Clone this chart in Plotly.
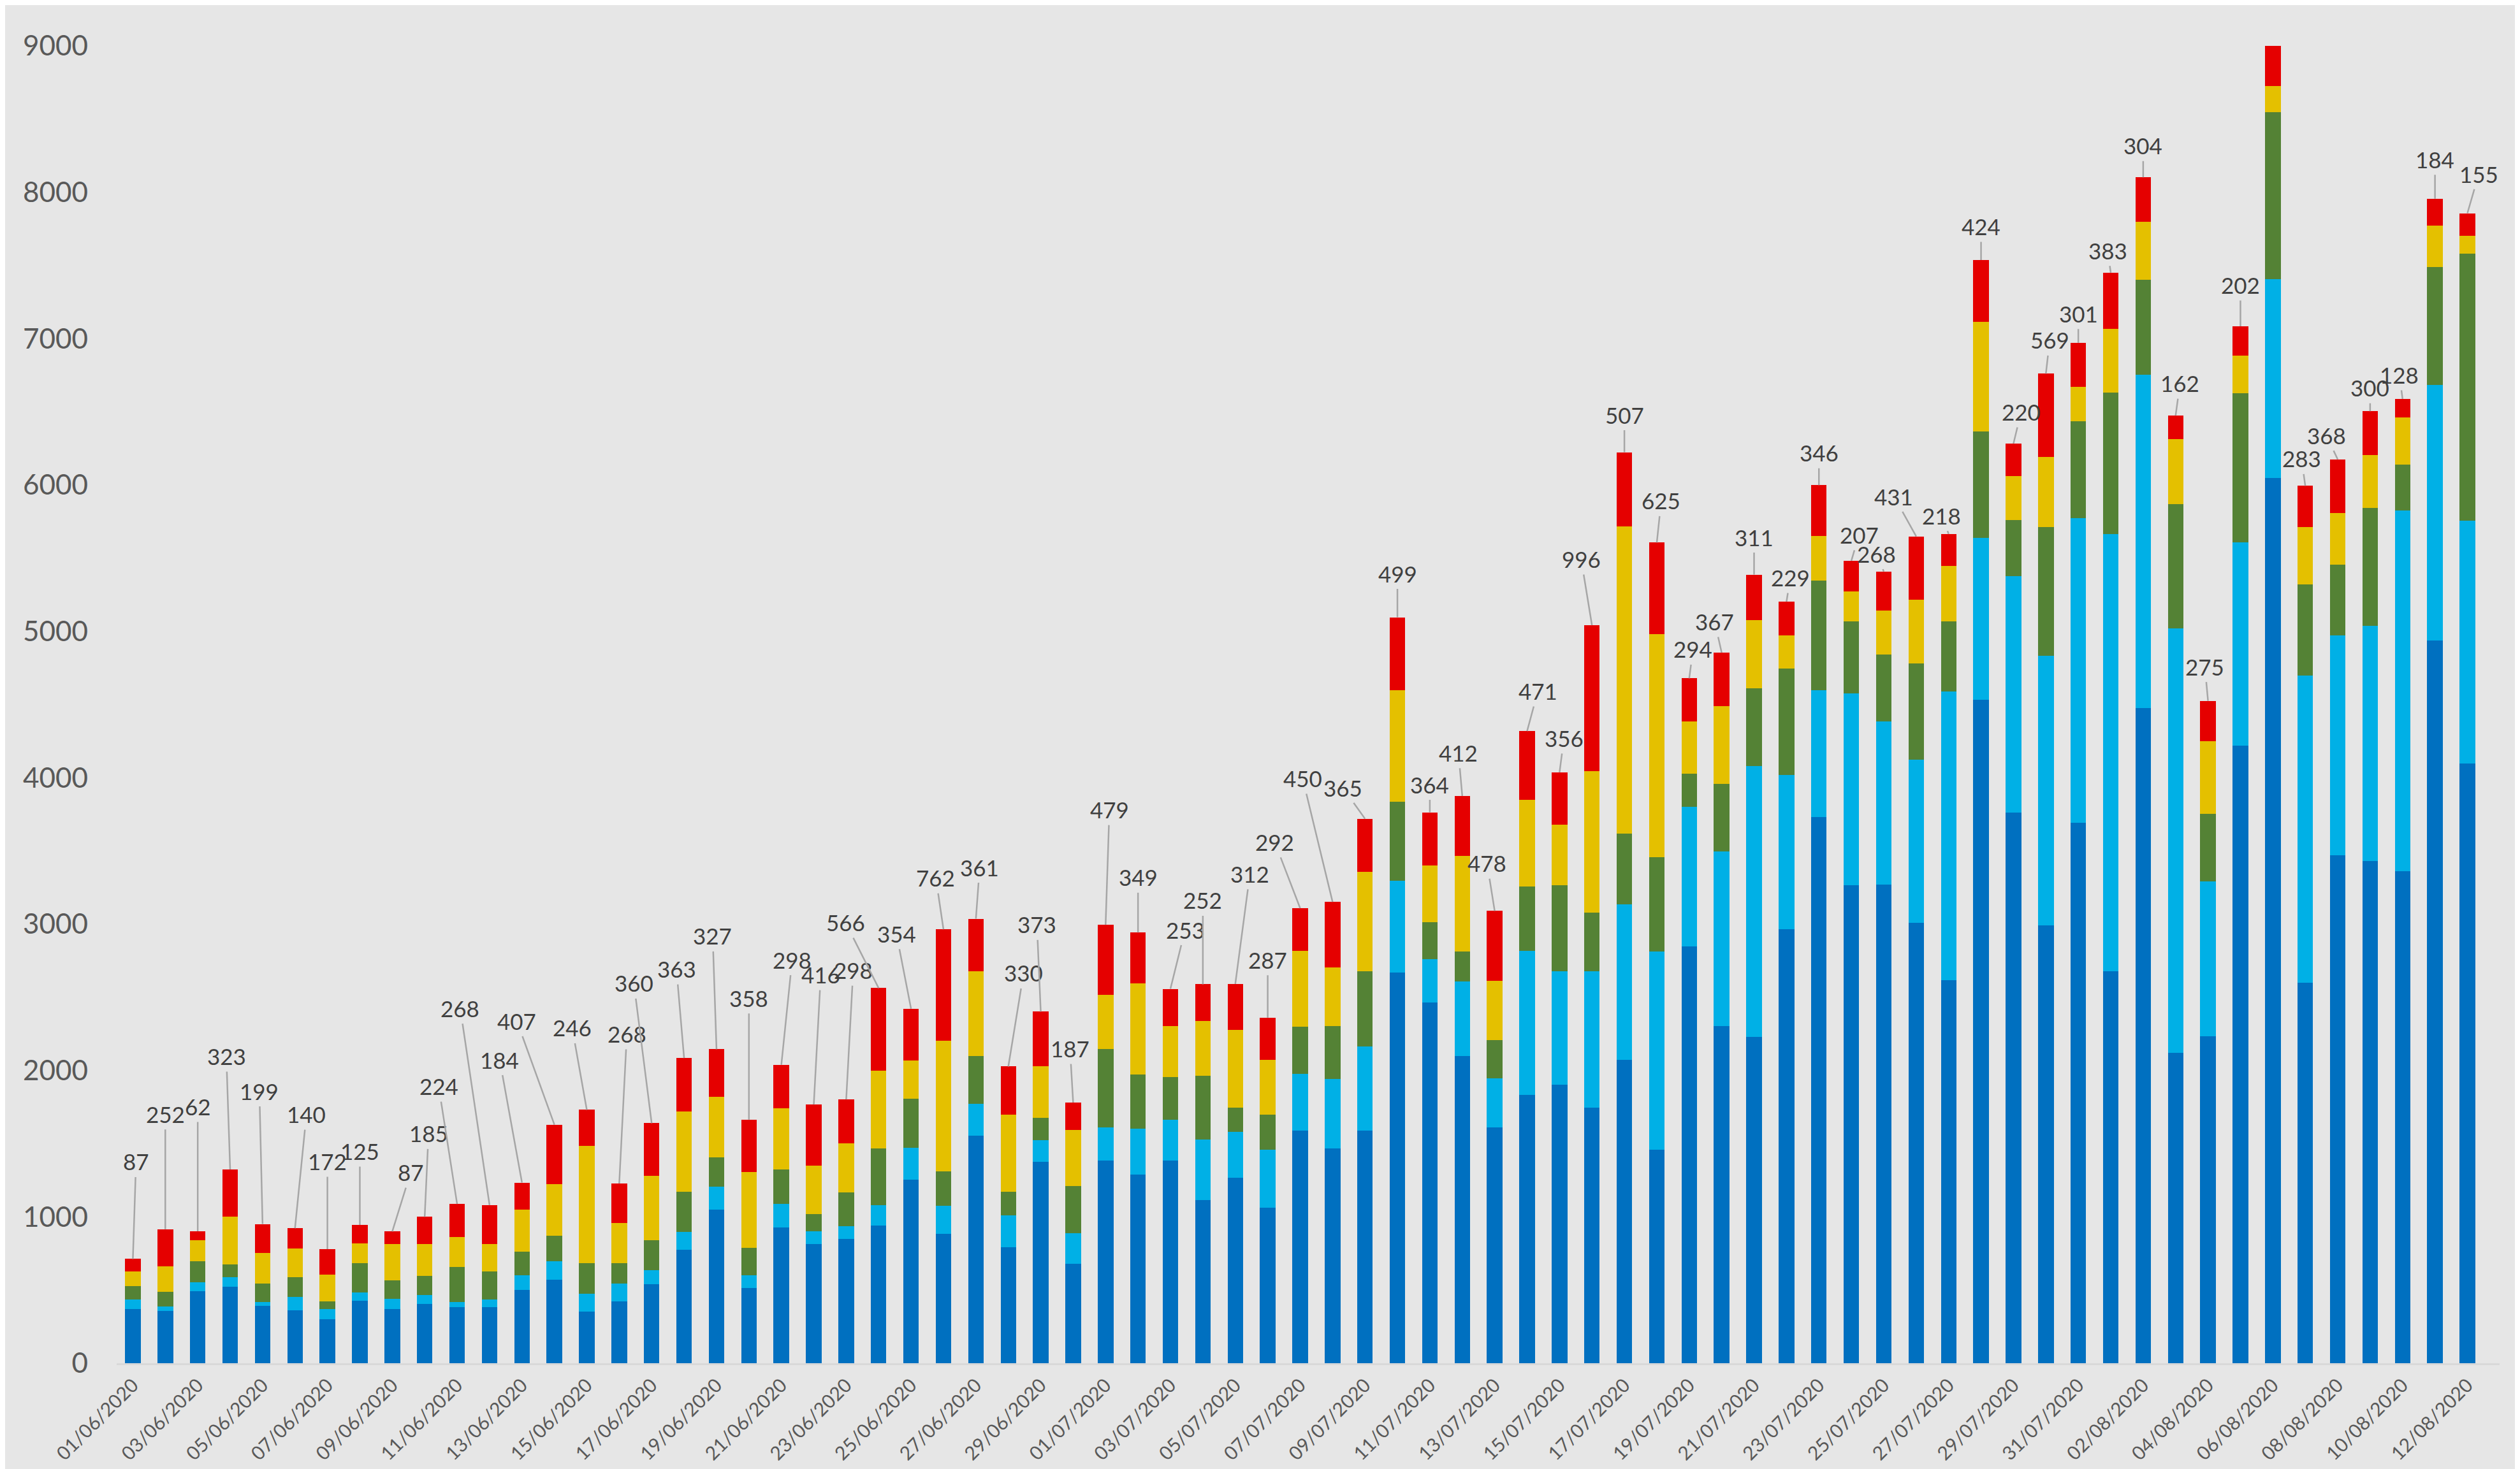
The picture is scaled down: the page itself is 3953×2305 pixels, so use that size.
import pandas as pd
import plotly.graph_objects as go

# ---- data -------------------------------------------------------------
dates = pd.date_range("2020-06-01", "2020-08-12").strftime("%d/%m/%Y").tolist()

dark_blue = [369, 359, 493, 521, 390, 361, 302, 428, 368, 407,
             384, 384, 499, 570, 352, 423, 538, 775, 1050, 512,
             928, 813, 851, 941, 1255, 883, 1556, 794, 1376, 679,
             1383, 1287, 1383, 1114, 1268, 1063, 1588, 1466, 1588, 2670,
             2465, 2100, 1613, 1831, 1901, 1748, 2074, 1460, 2849, 2305,
             2228, 2964, 3732, 3265, 3271, 3009, 2618, 4533, 3764, 2990,
             3694, 2676, 4475, 2119, 2234, 4219, 6050, 2599, 3470, 3431,
             3361, 4936, 4097]

light_blue = [67, 29, 60, 69, 30, 92, 67, 57, 73, 57,
              32, 51, 103, 128, 122, 121, 96, 121, 154, 90,
              160, 90, 84, 141, 217, 193, 217, 218, 148, 211,
              230, 314, 282, 416, 313, 397, 390, 474, 576, 627,
              294, 506, 333, 986, 775, 928, 1063, 1351, 954, 1191,
              1850, 1056, 865, 1312, 1114, 1114, 1972, 1107, 1614, 1844,
              2081, 2990, 2279, 2900, 1057, 1389, 1357, 2100, 1504, 1607,
              2465, 1748, 1658]

green = [91, 100, 143, 87, 125, 137, 54, 200, 124, 132,
         243, 192, 160, 173, 211, 141, 205, 276, 204, 185,
         237, 115, 230, 384, 333, 236, 327, 160, 153, 320,
         532, 371, 288, 435, 167, 237, 320, 365, 512, 538,
         256, 205, 263, 442, 589, 403, 480, 646, 224, 460,
         531, 724, 749, 493, 455, 659, 480, 724, 384, 877,
         659, 967, 647, 852, 461, 1018, 1140, 621, 481, 807,
         314, 806, 1825]

yellow = [98, 176, 143, 324, 207, 192, 184, 135, 248, 219,
          205, 186, 288, 352, 800, 275, 441, 550, 410, 519,
          416, 333, 339, 531, 263, 890, 576, 525, 352, 384,
          371, 621, 352, 372, 531, 377, 519, 397, 679, 762,
          385, 653, 403, 589, 416, 967, 2100, 1524, 358, 532,
          468, 230, 307, 205, 301, 436, 378, 749, 301, 480,
          237, 435, 397, 441, 499, 256, 179, 391, 352, 359,
          320, 282, 122]

red = [87, 252, 62, 323, 199, 140, 172, 125, 87, 185,
       224, 268, 184, 407, 246, 268, 360, 363, 327, 358,
       298, 416, 298, 566, 354, 762, 361, 330, 373, 187,
       479, 349, 253, 252, 312, 287, 292, 450, 365, 499,
       364, 412, 478, 471, 356, 996, 507, 625, 294, 367,
       311, 229, 346, 207, 268, 431, 218, 424, 220, 569,
       301, 383, 304, 162, 275, 202, 280, 283, 368, 300,
       128, 184, 155]

y_ticks = [0, 1000, 2000, 3000, 4000, 5000, 6000, 7000, 8000, 9000]

# label offsets (pixels) for the red-value labels, placement only
label_dx = [5, 0, 0, -6, -5, 18, 0, 0, 29, 6,
            -29, -46, -35, -59, -23, 12, -28, -12, -6, 0,
            17, 11, 11, -52, -23, -12, 6, 24, -6, -5,
            6, 0, 23, 0, 23, 0, -40, -47, -35, 0,
            0, -6, -12, 17, 7, -17, 0, 7, 6, -11,
            0, 6, 0, 12, -11, -35, -11, 0, 12, 6,
            0, -5, 0, 7, -5, 0, 0, -6, -18, 0,
            -5, 0, 18]
label_dy = [-153, -181, -196, -178, -209, -179, -138, -116, -93, -131,
            -185, -309, -193, -163, -129, -235, -220, -140, -178, -191,
            -165, -204, -203, -103, -118, -81, -81, -147, -137, -85,
            -181, -87, -93, -132, -173, -91, -104, -194, -49, -69,
            -44, -68, -75, -63, -54, -104, -59, -66, -46, -49,
            -59, -38, -51, -41, -28, -63, -29, -53, -50, -53,
            -46, -35, -50, -51, -54, -65, -38, -43, -38, -37,
            -38, -62, -62]

# ---- figure -----------------------------------------------------------
series = [
    ("dark blue", dark_blue, "#0070C0"),
    ("light blue", light_blue, "#00B0E6"),
    ("green", green, "#548235"),
    ("yellow", yellow, "#E4C000"),
    ("red", red, "#E50000"),
]

fig = go.Figure()
for name, vals, col in series:
    fig.add_trace(go.Bar(x=dates, y=vals, name=name, marker_color=col,
                         marker_line_width=0))

totals = [sum(v) for v in zip(dark_blue, light_blue, green, yellow, red)]

for d, tot, r, dx, dy in zip(dates, totals, red, label_dx, label_dy):
    fig.add_annotation(x=d, y=tot, text=str(r), showarrow=True,
                       arrowhead=0, arrowwidth=2.5, arrowcolor="#A6A6A6",
                       ax=dx, ay=dy, standoff=0, startstandoff=2,
                       font=dict(family="Lato", size=35, color="#404040"))

fig.update_layout(
    width=3945, height=2297,
    barmode="stack", bargap=0.52,
    showlegend=False,
    paper_bgcolor="#E6E6E6", plot_bgcolor="#E6E6E6",
    margin=dict(l=175, r=32, t=64, b=166),
    font=dict(family="Lato", color="#595959"),
)
fig.update_xaxes(
    type="category", tickmode="array",
    tickvals=dates[::2], ticktext=dates[::2],
    tickangle=-45, tickfont=dict(size=30, color="#595959"),
    showline=True, linecolor="#D9D9D9", linewidth=3,
    showgrid=False, ticks="", automargin=False, ticklabelstandoff=2,
)
fig.update_yaxes(
    range=[0, 9000], tickmode="array", tickvals=y_ticks,
    tickfont=dict(size=44, color="#595959"),
    showgrid=False, zeroline=False, showline=False, ticks="",
    automargin=False, ticklabelstandoff=44,
)

fig.write_html("out.html")
